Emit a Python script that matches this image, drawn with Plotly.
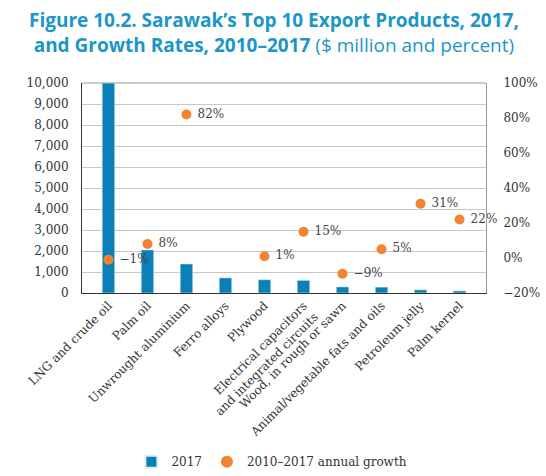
import plotly.graph_objects as go

categories = ["LNG and crude oil", "Palm oil", "Unwrought aluminium", "Ferro alloys",
              "Plywood", "Electrical capacitors<br>and integrated circuits",
              "Wood, in rough or sawn", "Animal/vegetable fats and oils",
              "Petroleum jelly", "Palm kernel"]
exports_2017 = [10000, 2050, 1380, 720, 630, 600, 290, 280, 150, 100]
growth = [-1, 8, 82, None, 1, 15, -9, 5, 31, 22]
growth_labels = ["\u22121%", "8%", "82%", "", "1%", "15%", "\u22129%", "5%", "31%", "22%"]
left_ticks = [0, 1000, 2000, 3000, 4000, 5000, 6000, 7000, 8000, 9000, 10000]
right_ticks = [-20, 0, 20, 40, 60, 80, 100]

serif = "DejaVu Serif, serif"
title_color = "#1b96c8"

fig = go.Figure()
fig.add_trace(go.Bar(
    x=categories, y=exports_2017, name="2017",
    marker=dict(color="#0a80b8"), width=0.32, yaxis="y",
))
fig.add_trace(go.Scatter(
    x=categories, y=growth, name="2010\u20132017 annual growth",
    mode="markers+text", text=[" " + t for t in growth_labels],
    textposition="middle right",
    textfont=dict(family=serif, size=12, color="#444"),
    marker=dict(color="#f58231", size=10), yaxis="y2",
    cliponaxis=False,
))

fig.update_layout(
    width=546, height=476,
    margin=dict(l=82, r=60, t=83, b=183, autoexpand=False),
    paper_bgcolor="white", plot_bgcolor="white",
    showlegend=True,
    legend=dict(orientation="h", x=0.47, xanchor="center",
                yref="container", y=0.03, yanchor="middle",
                font=dict(family=serif, size=12, color="#333"),
                itemsizing="constant", traceorder="normal", itemwidth=30),
    bargap=0.6,
    xaxis=dict(tickangle=-45, tickfont=dict(family=serif, size=12, color="#333"),
               showline=True, linecolor="#333", linewidth=1, mirror=False,
               ticks="", showgrid=False, automargin=False),
    yaxis=dict(range=[0, 10000], tickvals=left_ticks,
               ticktext=[f"{v:,}" for v in left_ticks],
               tickfont=dict(family=serif, size=12, color="#333"),
               showgrid=True, gridcolor="#c8c8c8", gridwidth=1,
               showline=True, linecolor="#333", linewidth=1,
               zeroline=False, ticks="", automargin=False, ticklabelstandoff=10),
    yaxis2=dict(range=[-20, 100], tickvals=right_ticks,
                ticktext=[("\u2212" + str(abs(v)) if v < 0 else str(v)) + "%" for v in right_ticks],
                tickfont=dict(family=serif, size=12, color="#333"),
                overlaying="y", side="right", showgrid=False, zeroline=False,
                showline=True, linecolor="#999", linewidth=1, ticks="",
                automargin=False, ticklabelstandoff=14),
    shapes=[dict(type="line", xref="paper", yref="paper", x0=0, x1=1, y0=1, y1=1,
                 line=dict(color="#999", width=1))],
    annotations=[
        dict(xref="paper", yref="paper", x=0.5, y=1, xshift=-10, yshift=78,
             xanchor="center", yanchor="top", showarrow=False, align="center",
             text="<b>Figure 10.2. Sarawak\u2019s Top 10 Export Products, 2017,</b><br>"
                  "<b>and Growth Rates, 2010\u20132017</b> ($ million and percent)",
             font=dict(family="Open Sans, sans-serif", size=19, color=title_color)),
    ],
)

fig.write_html("out.html")
